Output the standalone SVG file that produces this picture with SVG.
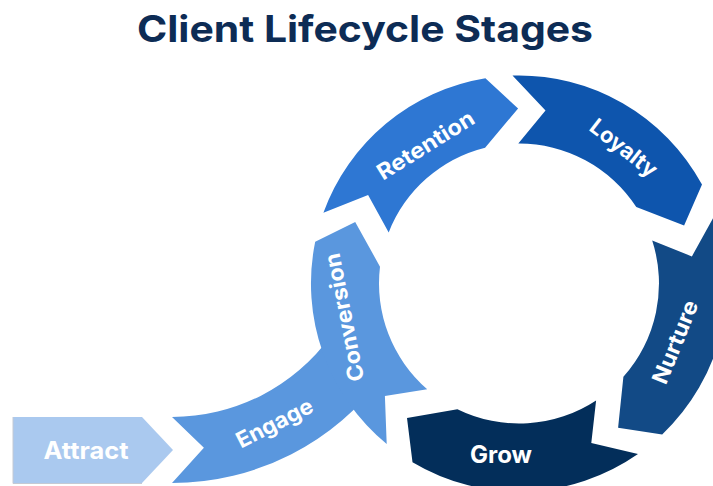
<svg xmlns="http://www.w3.org/2000/svg" width="713" height="486" viewBox="0 0 713 486">
  <style>
    .title { font-family: Inter, "Liberation Sans", sans-serif; font-weight: 700; font-size: 37px; fill: #0d2c55; }
    .label { font-family: Inter, "Liberation Sans", sans-serif; font-weight: 700; font-size: 22px; fill: #ffffff; text-anchor: middle; }
    .label.big { font-size: 24px; }
    .c-attract { fill: #aac9ef; }
    .c-engage { fill: #5a97de; }
    .c-retention { fill: #2e77d3; }
    .c-loyalty { fill: #0e55ad; }
    .c-nurture { fill: #124a86; }
    .c-grow { fill: #032e5a; }
  </style>
  <rect width="713" height="486" fill="#ffffff"/>

  <text class="title" x="365" y="42" text-anchor="middle" textLength="456" lengthAdjust="spacingAndGlyphs">Client Lifecycle Stages</text>

  <!-- entry arrow -->
  <g id="attract">
    <path class="c-attract" d="M 13 417 H 142 L 173 450 L 142 483 H 13 Z"/>
    <polyline points="13,417 13,483.5 142,483.5" fill="none" stroke="#c4cad4" stroke-width="1"/>
    <text class="label big" transform="translate(86,450)" y="8.6" textLength="85" lengthAdjust="spacingAndGlyphs">Attract</text>
  </g>

  <!-- lead-in band, bending up into the ring -->
  <g id="engage">
    <path class="c-engage" d="M 172 417 A 196 196 0 0 0 330.6 336.2 L 384.0 375.0 A 262 262 0 0 1 172 483 L 203.9 447.8 Z"/>
    <text class="label" transform="translate(275.5,425) rotate(-27)" y="5.6" textLength="83" lengthAdjust="spacingAndGlyphs">Engage</text>
  </g>

  <!-- ring segments, centre (519,283.5), radii 140 / 208 -->
  <g id="conversion">
    <path class="c-engage" d="M 386.7 444.0 A 208 208 0 0 1 315.2 241.7 L 355.2 221.9 L 380.0 266.7 A 140 140 0 0 0 427.2 389.2 L 384.9 396.0 Z"/>
    <text class="label" transform="translate(344,317.5) rotate(-101)" y="7.9" textLength="130" lengthAdjust="spacingAndGlyphs">Conversion</text>
  </g>

  <g id="retention">
    <path class="c-retention" d="M 323.4 212.7 A 208 208 0 0 1 485.4 78.2 L 518.1 108.5 L 485.1 147.7 A 140 140 0 0 0 388.7 232.4 L 368.1 194.9 Z"/>
    <text class="label" transform="translate(425.5,145) rotate(-32)" y="7.9" textLength="110" lengthAdjust="spacingAndGlyphs">Retention</text>
  </g>

  <g id="loyalty">
    <path class="c-loyalty" d="M 512.5 75.6 A 208 208 0 0 1 702.0 184.6 L 684.1 225.4 L 636.3 207.0 A 140 140 0 0 0 518.3 143.5 L 545.5 110.5 Z"/>
    <text class="label" transform="translate(622.5,149.5) rotate(38)" y="5.6" textLength="79" lengthAdjust="spacingAndGlyphs">Loyalty</text>
  </g>

  <g id="nurture">
    <path class="c-nurture" d="M 715.2 214.4 A 208 208 0 0 1 662.2 434.4 L 618.1 427.7 L 623.4 376.8 A 140 140 0 0 0 652.2 240.5 L 691.9 256.4 Z"/>
    <text class="label" transform="translate(675,342) rotate(-68)" y="7.9" textLength="88" lengthAdjust="spacingAndGlyphs">Nurture</text>
  </g>

  <g id="grow">
    <path class="c-grow" d="M 638.0 454.1 A 208 208 0 0 1 412.5 462.2 L 407.0 418.0 L 457.4 409.2 A 140 140 0 0 0 596.1 400.4 L 591.3 442.9 Z"/>
    <text class="label big" transform="translate(501,454)" y="8.6" textLength="62" lengthAdjust="spacingAndGlyphs">Grow</text>
  </g>
</svg>
